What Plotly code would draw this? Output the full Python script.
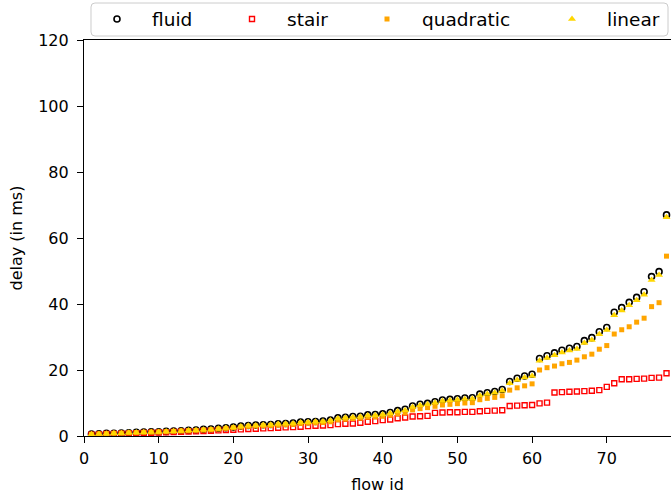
import plotly.graph_objects as go

flow_id = list(range(1, 79))

fluid = [0.6, 0.7, 0.8, 0.85, 0.9, 1.0, 1.1, 1.2, 1.25, 1.3, 1.4, 1.5, 1.6, 1.7, 1.8, 2.0, 2.1, 2.3, 2.5, 2.7,
         3.0, 3.2, 3.3, 3.4, 3.5, 3.7, 3.8, 3.9, 4.2, 4.3, 4.4, 4.5, 4.8, 5.5, 5.7, 5.9, 6.0, 6.4, 6.5, 6.7, 7.1,
         7.7, 8.1, 9.1, 9.6, 9.9, 10.4, 10.9, 11.1, 11.3, 11.5, 11.6, 12.7, 13.1, 13.5, 14.1,
         16.5, 17.5, 18.2, 18.7,
         23.5, 24.3, 25.2, 26.0, 26.6, 27.1, 28.9, 29.8, 31.6, 32.9, 37.5, 38.9, 40.5, 42.0, 43.7, 48.3, 49.8, 67.0]

stair = [0.4, 0.5, 0.6, 0.65, 0.7, 0.8, 0.85, 0.9, 1.0, 1.05, 1.1, 1.2, 1.3, 1.35, 1.4, 1.5, 1.6, 1.7, 1.8, 1.9,
         2.0, 2.1, 2.2, 2.3, 2.4, 2.5, 2.6, 2.7, 2.8, 3.0, 3.1, 3.2, 3.3, 3.6, 3.7, 3.8, 4.0, 4.3, 4.5, 4.8, 5.0,
         5.4, 5.6, 5.9, 6.0, 6.1, 7.0, 7.1, 7.2, 7.2, 7.3, 7.3, 7.5, 7.6, 7.7, 7.8,
         9.1, 9.2, 9.3, 9.4,
         9.9, 10.1, 13.2, 13.3, 13.4, 13.5, 13.6, 13.7, 13.9, 14.9, 16.0, 17.2, 17.2, 17.3, 17.4, 17.6, 17.7, 19.0]

quadratic = [0.5, 0.6, 0.7, 0.8, 0.85, 0.95, 1.0, 1.1, 1.15, 1.2, 1.3, 1.4, 1.5, 1.6, 1.7, 1.8, 1.9, 2.1, 2.3, 2.5,
             2.7, 2.9, 3.0, 3.1, 3.2, 3.3, 3.4, 3.5, 3.8, 3.9, 4.0, 4.1, 4.3, 4.9, 5.1, 5.3, 5.4, 5.7, 5.8, 6.0, 6.3,
             6.7, 7.0, 7.9, 8.3, 8.6, 9.0, 9.4, 9.6, 9.8, 10.0, 10.1, 11.0, 11.4, 11.7, 12.2,
             13.9, 14.6, 15.2, 15.8,
             20.0, 20.7, 21.2, 21.9, 22.3, 23.0, 24.0, 24.8, 26.3, 27.4, 30.9, 32.2, 33.1, 34.5, 35.7, 39.2, 40.4, 54.5]

linear = [0.5, 0.6, 0.7, 0.8, 0.85, 0.95, 1.05, 1.15, 1.2, 1.25, 1.35, 1.45, 1.55, 1.65, 1.75, 1.9, 2.0, 2.2, 2.4, 2.6,
          2.9, 3.1, 3.2, 3.3, 3.4, 3.6, 3.7, 3.8, 4.1, 4.2, 4.3, 4.4, 4.7, 5.3, 5.5, 5.7, 5.8, 6.2, 6.3, 6.5, 6.9,
          7.4, 7.8, 8.8, 9.3, 9.6, 10.1, 10.6, 10.8, 11.0, 11.2, 11.3, 12.3, 12.7, 13.1, 13.7,
          16.0, 17.0, 17.7, 18.2,
          22.8, 23.6, 24.5, 25.3, 25.9, 26.4, 28.2, 29.1, 30.8, 32.1, 36.6, 38.0, 39.6, 41.1, 42.8, 47.3, 48.8, 66.3]

fig = go.Figure()
fig.add_trace(go.Scatter(x=flow_id, y=fluid, mode="markers", name="fluid", legend="legend",
                         marker=dict(symbol="circle-open", size=6, color="black", line=dict(width=1.6))))
fig.add_trace(go.Scatter(x=flow_id, y=stair, mode="markers", name="stair", legend="legend2",
                         marker=dict(symbol="square-open", size=5, color="red", line=dict(width=1.4))))
fig.add_trace(go.Scatter(x=flow_id, y=quadratic, mode="markers", name="quadratic", legend="legend3",
                         marker=dict(symbol="square", size=5, color="orange", line=dict(width=0))))
fig.add_trace(go.Scatter(x=flow_id, y=linear, mode="markers", name="linear", legend="legend4",
                         marker=dict(symbol="triangle-up", size=7, color="gold", line=dict(width=0))))

# one legend per entry so the spacing follows the reference; a shared box drawn as a shape
leg = dict(orientation="h", xref="container", yref="container", y=0.961,
           xanchor="left", yanchor="middle", bgcolor="rgba(0,0,0,0)", borderwidth=0,
           itemwidth=60, font=dict(size=18.5))
fig.update_layout(
    showlegend=True,
    legend=dict(leg, x=82 / 671),
    legend2=dict(leg, x=217 / 671),
    legend3=dict(leg, x=352 / 671),
    legend4=dict(leg, x=537 / 671),
)

x0, x1, y0, y1 = 0.0119, 0.9949, 1.0101, 1.0934
rx, ry = 0.0068, 0.0101
box = (f"M {x0+rx},{y0} L {x1-rx},{y0} Q {x1},{y0} {x1},{y0+ry} L {x1},{y1-ry} Q {x1},{y1} {x1-rx},{y1} "
       f"L {x0+rx},{y1} Q {x0},{y1} {x0},{y1-ry} L {x0},{y0+ry} Q {x0},{y0} {x0+rx},{y0} Z")
fig.add_shape(type="path", path=box, xref="paper", yref="paper",
              line=dict(color="#cccccc", width=1), fillcolor="rgba(0,0,0,0)")

fig.update_layout(
    width=671, height=499,
    margin=dict(l=84, r=0, t=40, b=63),
    plot_bgcolor="white", paper_bgcolor="white",
    font=dict(family="DejaVu Sans", size=16, color="black"),
)
fig.update_xaxes(range=[0, 78.6], tickvals=[0, 10, 20, 30, 40, 50, 60, 70], automargin=False,
                 showline=True, linecolor="black", linewidth=1.2, mirror=True,
                 ticks="outside", ticklen=6, tickcolor="black", ticklabelstandoff=2,
                 showgrid=False, zeroline=False,
                 title=dict(text="flow id", standoff=11, font=dict(size=16)))
fig.update_yaxes(range=[0, 120], tickvals=[0, 20, 40, 60, 80, 100, 120], automargin=False,
                 showline=True, linecolor="black", linewidth=1.2,
                 ticks="outside", ticklen=6, tickcolor="black", ticklabelstandoff=5,
                 showgrid=False, zeroline=False,
                 title=dict(text="delay (in ms)", standoff=11, font=dict(size=16)))

# drop the browser's default page margin so the figure sits at the window's corner
fig.write_html("out.html", config={"displayModeBar": False},
               post_script="document.body.style.margin = '0';")
